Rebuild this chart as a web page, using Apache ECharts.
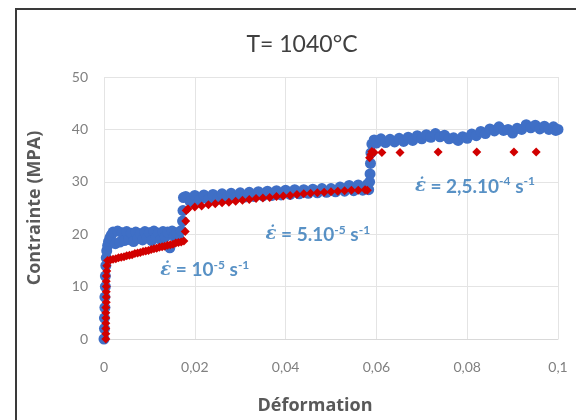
<!DOCTYPE html>
<html>
<head>
<meta charset="utf-8">
<script src="https://cdn.jsdelivr.net/npm/echarts@6/dist/echarts.min.js"></script>
<style>
  html, body { margin: 0; padding: 0; background: #fff; }
  #main { width: 576px; height: 420px; }
</style>
</head>
<body>
<div id="main"></div>
<script>
// courbe bleue (essai dense)
var blueStrain = [
  0, 0.0001, 0.0001, 0.0002, 0.0002, 0.0003, 0.0003, 0.0004, 0.0005, 0.0006, 0.0008, 0.001, 0.0013, 0.0016,
  0.002, 0.0025, 0.003, 0.0035, 0.004, 0.0045, 0.005, 0.0055, 0.006, 0.0065, 0.007, 0.0075, 0.008, 0.0085,
  0.009, 0.0095, 0.01, 0.0105, 0.011, 0.0115, 0.012, 0.0125, 0.013, 0.0135, 0.014, 0.0145, 0.015, 0.0155,
  0.016, 0.0165, 0.017, 0.0173, 0.0174, 0.0175,
  0.018, 0.019, 0.020, 0.021, 0.022, 0.023, 0.024, 0.025, 0.026, 0.027, 0.028, 0.029, 0.030, 0.031, 0.032,
  0.033, 0.034, 0.035, 0.036, 0.037, 0.038, 0.039, 0.040, 0.041, 0.042, 0.043, 0.044, 0.045, 0.046, 0.047,
  0.048, 0.049, 0.050, 0.051, 0.052, 0.053, 0.054, 0.055, 0.056, 0.057, 0.058,
  0.0583, 0.0585, 0.0586, 0.0587, 0.0588, 0.059,
  0.0595, 0.060, 0.061, 0.062, 0.063, 0.064, 0.065, 0.066, 0.067, 0.068, 0.069, 0.070, 0.071, 0.072, 0.073,
  0.074, 0.075, 0.076, 0.077, 0.078, 0.079, 0.080, 0.081, 0.082, 0.083, 0.084, 0.085, 0.086, 0.087, 0.088,
  0.089, 0.090, 0.091, 0.092, 0.093, 0.094, 0.095, 0.096, 0.097, 0.098, 0.099, 0.0995, 0.1
];
var blueStress = [
  0, 2, 4, 6, 8, 10, 12, 14, 15.5, 16.8, 17.8, 18.6, 19.3, 19.8,
  20.4, 18.2, 20.6, 18.5, 20.3, 18.8, 20.5, 19.0, 20.2, 18.6, 20.4, 19.2, 20.1, 18.9,
  20.5, 19.3, 20.3, 18.8, 20.6, 19.4, 20.2, 19.0, 20.5, 19.5, 20.4, 17.4, 20.6, 19.6,
  20.3, 19.2, 20.7, 22.5, 24.5, 27.0,
  27.2, 26.2, 27.4, 26.5, 27.5, 26.6, 27.6, 26.8, 27.7, 26.9, 27.8, 27.0, 27.9, 27.1, 28.0,
  27.2, 28.1, 27.3, 28.2, 27.4, 28.3, 27.5, 28.4, 27.6, 28.5, 27.7, 28.5, 27.8, 28.6, 27.9,
  28.7, 28.0, 28.7, 28.1, 29.0, 28.2, 29.3, 28.3, 29.4, 28.4, 29.5,
  28.5, 30.0, 31.5, 33.5, 35.5, 37.2,
  38.0, 37.4, 38.2, 37.5, 38.1, 37.6, 38.3, 37.7, 38.5, 37.9, 38.8, 38.2, 39.0, 38.5, 39.2,
  38.6, 38.9, 38.2, 38.4, 37.9, 38.6, 38.3, 39.1, 38.8, 39.6, 39.2, 40.1, 39.7, 40.5, 39.8,
  40.0, 39.3, 40.2, 40.0, 40.9, 40.3, 40.8, 40.1, 40.6, 40.0, 40.5, 39.8, 40.0
];

// courbe rouge (losanges)
var redStrain = [
  0.0004, 0.0004, 0.0004, 0.0004, 0.0004, 0.0004, 0.0004, 0.0005, 0.0005, 0.0005, 0.0005, 0.0005, 0.0005, 0.0006, 0.0006,
  0.0008, 0.0014, 0.002, 0.0026, 0.0032, 0.0038, 0.0044, 0.005, 0.0056, 0.0062, 0.0068, 0.0074, 0.008, 0.0086,
  0.0092, 0.0098, 0.0104, 0.011, 0.0116, 0.0122, 0.0128, 0.0134, 0.014, 0.0146, 0.0152, 0.0158, 0.0164, 0.017, 0.0176,
  0.0179, 0.018, 0.0181,
  0.0185, 0.020, 0.0215, 0.023, 0.0245, 0.026, 0.0275, 0.029, 0.0305, 0.032, 0.0335, 0.035, 0.0365, 0.038,
  0.0395, 0.041, 0.0425, 0.044, 0.0455, 0.047, 0.0485, 0.050, 0.0515, 0.053, 0.0545, 0.056, 0.0575, 0.058,
  0.0585, 0.0588, 0.059, 0.0595,
  0.0612, 0.0652, 0.0736, 0.0821, 0.0903, 0.0952
];
var redStress = [
  0, 1, 2, 3, 4, 5, 6, 7, 8, 9, 10, 11, 12, 13, 14,
  15.0, 15.1, 15.2, 15.3, 15.5, 15.6, 15.7, 15.9, 16.0, 16.1, 16.3, 16.4, 16.5, 16.7,
  16.8, 16.9, 17.1, 17.2, 17.3, 17.5, 17.6, 17.7, 17.9, 18.0, 18.1, 18.3, 18.4, 18.5, 18.7,
  20.5, 22.5, 24.5,
  24.8, 25.2, 25.4, 25.6, 25.8, 26.0, 26.1, 26.3, 26.5, 26.6, 26.8, 26.9, 27.0, 27.2,
  27.3, 27.4, 27.6, 27.7, 27.8, 27.9, 28.0, 28.1, 28.2, 28.3, 28.4, 28.4, 28.5, 28.4,
  34.6, 35.2, 35.8, 35.6,
  35.6, 35.6, 35.7, 35.7, 35.7, 35.7
];

// vitesses de déformation
var noteStrain = [0.0222, 0.0471, 0.0817];
var noteStress = [13.2, 19.9, 29.1];
var noteText = [
  '{e|ε̇} = 10{s|-5} s{s|-1}',
  '{e|ε̇} = 5.10{s|-5} s{s|-1}',
  '{e|ε̇} = 2,5.10{s|-4} s{s|-1}'
];

var xTicks = ['0', '0,02', '0,04', '0,06', '0,08', '0,1'];

function zip(a, b) {
  return a.map(function (v, i) { return [v, b[i]]; });
}

var chart = echarts.init(document.getElementById('main'));

var option = {
  backgroundColor: '#fff',
  animation: false,
  textStyle: { fontFamily: 'Lato' },
  title: {
    text: 'T= 1040°C',
    left: 297,
    top: 28,
    textAlign: 'center',
    textStyle: { fontFamily: 'Lato', fontSize: 23, fontWeight: 'normal', color: '#404040' }
  },
  grid: { left: 104, right: 18, top: 77, bottom: 78 },
  xAxis: {
    type: 'value',
    min: 0,
    max: 0.1,
    interval: 0.02,
    name: 'Déformation',
    nameLocation: 'middle',
    nameGap: 58,
    nameTextStyle: { fontFamily: 'Open Sans', fontSize: 18, fontWeight: 'bold', color: '#595959', padding: [0, 32, 0, 0] },
    axisLine: { show: true, lineStyle: { color: '#d9d9d9' } },
    axisTick: { show: false },
    axisLabel: {
      margin: 21, fontSize: 14, color: '#808080',
      formatter: function (v) { return xTicks[Math.round(v / 0.02)]; }
    },
    splitLine: { show: true, lineStyle: { color: '#e4e4e4' } }
  },
  yAxis: {
    type: 'value',
    min: 0,
    max: 50,
    interval: 10,
    name: 'Contrainte (MPA)',
    nameLocation: 'middle',
    nameGap: 60,
    nameTextStyle: { fontFamily: 'Open Sans', fontSize: 18, fontWeight: 'bold', color: '#595959' },
    axisLine: { show: false },
    axisTick: { show: false },
    axisLabel: { margin: 16, fontSize: 14, color: '#808080' },
    splitLine: { show: true, lineStyle: { color: '#e4e4e4' } }
  },
  series: [
    {
      type: 'scatter',
      data: zip(blueStrain, blueStress),
      symbol: 'circle',
      symbolSize: 11,
      itemStyle: { color: '#3f6fc6', opacity: 1 }
    },
    {
      type: 'scatter',
      data: zip(redStrain, redStress),
      symbol: 'diamond',
      symbolSize: 9,
      itemStyle: { color: '#d10000', opacity: 1 }
    },
    {
      type: 'scatter',
      data: zip(noteStrain, noteStress),
      symbolSize: 0,
      silent: true,
      label: {
        show: true,
        position: 'inside',
        formatter: function (p) { return noteText[p.dataIndex]; },
        rich: {
          e: { fontFamily: 'DejaVu Serif', fontStyle: 'italic', fontWeight: 'bold', fontSize: 18, color: '#2e75b6', lineHeight: 22 },
          s: { fontFamily: 'Lato', fontWeight: 'bold', fontSize: 12, color: '#2e75b6', lineHeight: 12, verticalAlign: 'top' }
        },
        fontFamily: 'Lato',
        fontWeight: 'bold',
        fontSize: 19,
        lineHeight: 22,
        color: '#2e75b6'
      }
    }
  ],
  graphic: [
    {
      type: 'polyline',
      shape: { points: [[16, 420], [16, 9], [576, 9]] },
      style: { stroke: '#3a3a3a', lineWidth: 2, fill: null }
    }
  ]
};

chart.setOption(option);
</script>
</body>
</html>
